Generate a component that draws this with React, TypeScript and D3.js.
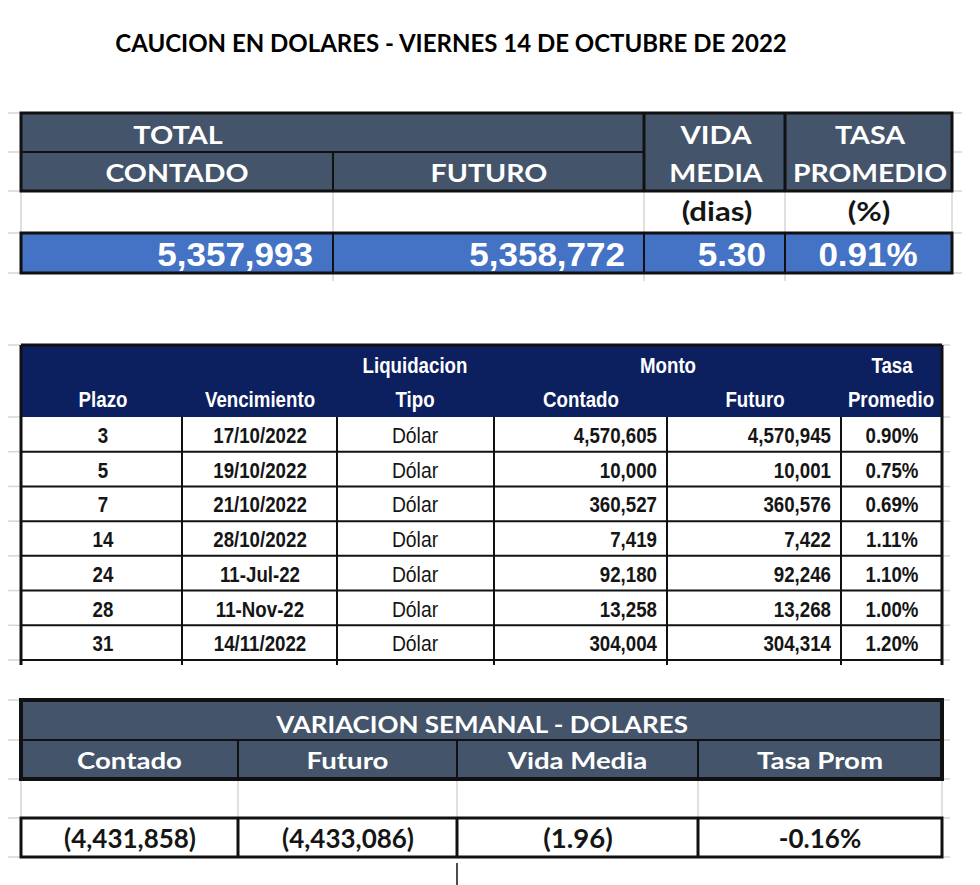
import React from "react";
import * as d3 from "d3";

// ---- data ----
const title = "CAUCION EN DOLARES - VIERNES 14 DE OCTUBRE DE 2022";

const totalContado = 5357993;
const totalFuturo = 5358772;
const vidaMedia = 5.3;
const tasaPromedio = 0.91;

const plazos = [3, 5, 7, 14, 24, 28, 31];
const vencimientos = ["17/10/2022", "19/10/2022", "21/10/2022", "28/10/2022", "11-Jul-22", "11-Nov-22", "14/11/2022"];
const tipos = ["Dólar", "Dólar", "Dólar", "Dólar", "Dólar", "Dólar", "Dólar"];
const montoContado = [4570605, 10000, 360527, 7419, 92180, 13258, 304004];
const montoFuturo = [4570945, 10001, 360576, 7422, 92246, 13268, 304314];
const tasas = [0.9, 0.75, 0.69, 1.11, 1.1, 1.0, 1.2];

const varLabels = ["Contado", "Futuro", "Vida Media", "Tasa Prom"];
const varContado = -4431858;
const varFuturo = -4433086;
const varVida = -1.96;
const varTasa = -0.16;

// ---- styles ----
const CAL = "Lato, 'Open Sans', sans-serif";
const NARROW = "'Liberation Sans Narrow', 'Liberation Sans', Arial, sans-serif";
const ARIAL = "'Liberation Sans', Arial, sans-serif";
const slate = "#44546a";
const navy = "#0c1f5e";
const blue = "#4472c4";
const grid = "#d6d6d6";
const ink = "#151515";

const fmtInt = d3.format(",");
const fmt2 = d3.format(".2f");
const paren = (v: number, f: (n: number) => string) => (v < 0 ? `(${f(-v)})` : f(v));
const pct = (v: number) => (v < 0 ? "-" : "") + fmt2(Math.abs(v)) + "%";

// text squeezed/stretched horizontally to mimic the spreadsheet fonts
function T({ x, y, sx = 1, anchor = "middle", children, ...rest }: any) {
  return (
    <text transform={`translate(${x},${y}) scale(${sx},1)`} textAnchor={anchor} {...rest}>
      {children}
    </text>
  );
}

export default function App() {
  // table 1 geometry
  const t1x = [21, 333, 644, 785, 952];
  const t1y = [113, 152, 191, 233, 273];

  // table 2 geometry
  const t2x = [21, 182, 337, 494, 667, 841, 942];
  const t2top = 345;
  const rowY = d3.scaleLinear().domain([0, plazos.length]).range([417, 660]);
  const rowIdx = d3.range(plazos.length);

  // table 3 geometry
  const t3x = [21, 238, 457, 698, 942];
  const t3y = [700, 740, 779, 818, 857];

  const t2lines = [t2top, ...d3.range(plazos.length + 1).map(rowY)];
  const stubsLeft = [...t1y, ...t2lines, ...t3y];
  const NX = 0.85;

  return (
    <svg width={980} height={885} style={{ position: "absolute", left: 0, top: 0, background: "#fff" }}>
      {/* spreadsheet gridline stubs */}
      {stubsLeft.map((y, i) => (
        <line key={"sl" + i} x1={8} x2={21} y1={y} y2={y} stroke={grid} strokeWidth={1.5} />
      ))}
      {t1y.map((y, i) => (
        <line key={"sr" + i} x1={952} x2={962} y1={y} y2={y} stroke={grid} strokeWidth={1.5} />
      ))}
      {[...t2lines, ...t3y].map((y, i) => (
        <line key={"sr2" + i} x1={942} x2={950} y1={y} y2={y} stroke={grid} strokeWidth={1.5} />
      ))}

      {/* title */}
      <T x={451} y={52} fontFamily={CAL} fontWeight={700} fontSize={24} fill="#000">
        {title}
      </T>

      {/* ===== table 1 ===== */}
      <rect x={t1x[0]} y={t1y[0]} width={t1x[4] - t1x[0]} height={t1y[2] - t1y[0]} fill={slate} />
      {t1x.map((x, i) => (
        <line key={"g1" + i} x1={x} x2={x} y1={t1y[2]} y2={t1y[3]} stroke={grid} strokeWidth={1.5} />
      ))}
      {[1, 2, 3].map((i) => (
        <line key={"g1b" + i} x1={t1x[i]} x2={t1x[i]} y1={t1y[4]} y2={t1y[4] + 8} stroke={grid} strokeWidth={1.5} />
      ))}
      <rect x={t1x[0]} y={t1y[3]} width={t1x[4] - t1x[0]} height={t1y[4] - t1y[3]} fill={blue} />
      <rect x={t1x[0]} y={t1y[0]} width={t1x[4] - t1x[0]} height={t1y[2] - t1y[0]} fill="none" stroke="#111" strokeWidth={3} />
      <line x1={t1x[0]} x2={t1x[2]} y1={t1y[1]} y2={t1y[1]} stroke="#111" strokeWidth={2} />
      <line x1={t1x[1]} x2={t1x[1]} y1={t1y[1]} y2={t1y[2]} stroke="#111" strokeWidth={2} />
      <line x1={t1x[2]} x2={t1x[2]} y1={t1y[0]} y2={t1y[2]} stroke="#111" strokeWidth={3} />
      <line x1={t1x[3]} x2={t1x[3]} y1={t1y[0]} y2={t1y[2]} stroke="#111" strokeWidth={3} />
      <rect x={t1x[0]} y={t1y[3]} width={t1x[4] - t1x[0]} height={t1y[4] - t1y[3]} fill="none" stroke="#111" strokeWidth={3} />
      {[1, 2, 3].map((i) => (
        <line key={"v1" + i} x1={t1x[i]} x2={t1x[i]} y1={t1y[3]} y2={t1y[4]} stroke="#111" strokeWidth={2} />
      ))}
      <g fontFamily={CAL} fontWeight={700} fontSize={24} fill="#fff">
        <T x={178} y={144} sx={1.2}>TOTAL</T>
        <T x={177} y={182} sx={1.19}>CONTADO</T>
        <T x={489} y={182} sx={1.19}>FUTURO</T>
        <T x={716} y={144} sx={1.22}>VIDA</T>
        <T x={716} y={182} sx={1.19}>MEDIA</T>
        <T x={870} y={144} sx={1.19}>TASA</T>
        <T x={870} y={182} sx={1.18}>PROMEDIO</T>
      </g>
      <g fontFamily={CAL} fontWeight={700} fontSize={26} fill={ink}>
        <T x={717} y={221} sx={1.2}>(dias)</T>
        <T x={869} y={221} sx={1.2}>(%)</T>
      </g>
      <g fontFamily={ARIAL} fontWeight={700} fontSize={34} fill="#fff">
        <T x={313} y={266} sx={1.03} anchor="end">{fmtInt(totalContado)}</T>
        <T x={625} y={266} sx={1.03} anchor="end">{fmtInt(totalFuturo)}</T>
        <T x={766} y={266} sx={1.03} anchor="end">{fmt2(vidaMedia)}</T>
        <T x={868} y={266} sx={1.03}>{pct(tasaPromedio)}</T>
      </g>

      {/* ===== table 2 ===== */}
      <rect x={t2x[0]} y={t2top} width={t2x[6] - t2x[0]} height={rowY(0) - t2top} fill={navy} />
      <g fontFamily={NARROW} fontWeight={700} fontSize={22} fill="#fff">
        <T x={415} y={373} sx={NX}>Liquidacion</T>
        <T x={668} y={373} sx={NX}>Monto</T>
        <T x={892} y={373} sx={NX}>Tasa</T>
        <T x={103} y={407} sx={NX}>Plazo</T>
        <T x={260} y={407} sx={NX}>Vencimiento</T>
        <T x={415} y={407} sx={NX}>Tipo</T>
        <T x={581} y={407} sx={NX}>Contado</T>
        <T x={755} y={407} sx={NX}>Futuro</T>
        <T x={891} y={407} sx={NX}>Promedio</T>
      </g>
      {rowIdx.map((i) => (
        <line key={"h2" + i} x1={t2x[0]} x2={t2x[6]} y1={rowY(i + 1)} y2={rowY(i + 1)} stroke="#111" strokeWidth={2} />
      ))}
      {t2x.map((x, i) => (
        <line key={"v2" + i} x1={x} x2={x} y1={i === 0 || i === 6 ? t2top : rowY(0)} y2={rowY(plazos.length) + 5}
          stroke="#111" strokeWidth={i === 0 || i === 6 ? 3 : 2} />
      ))}
      <line x1={t2x[0]} x2={t2x[6]} y1={t2top} y2={t2top} stroke="#111" strokeWidth={3} />
      <g fontFamily={NARROW} fontWeight={700} fontSize={22} fill={ink}>
        {rowIdx.map((i) => {
          const y = rowY(i) + 26;
          return (
            <g key={"r" + i}>
              <T x={103} y={y} sx={NX}>{plazos[i]}</T>
              <T x={260} y={y} sx={NX}>{vencimientos[i]}</T>
              <T x={415} y={y} sx={0.88} fontWeight={400}>{tipos[i]}</T>
              <T x={657} y={y} sx={NX} anchor="end">{fmtInt(montoContado[i])}</T>
              <T x={831} y={y} sx={NX} anchor="end">{fmtInt(montoFuturo[i])}</T>
              <T x={892} y={y} sx={NX}>{pct(tasas[i])}</T>
            </g>
          );
        })}
      </g>

      {/* ===== table 3 ===== */}
      <rect x={t3x[0]} y={t3y[0]} width={t3x[4] - t3x[0]} height={t3y[2] - t3y[0]} fill={slate} />
      {t3x.map((x, i) => (
        <line key={"g3" + i} x1={x} x2={x} y1={t3y[2]} y2={t3y[3]} stroke={grid} strokeWidth={1.5} />
      ))}
      <rect x={t3x[0]} y={t3y[0]} width={t3x[4] - t3x[0]} height={t3y[2] - t3y[0]} fill="none" stroke="#111" strokeWidth={4} />
      <line x1={t3x[0]} x2={t3x[4]} y1={t3y[1]} y2={t3y[1]} stroke="#111" strokeWidth={2} />
      {[1, 2, 3].map((i) => (
        <line key={"v3" + i} x1={t3x[i]} x2={t3x[i]} y1={t3y[1]} y2={t3y[2]} stroke="#111" strokeWidth={2} />
      ))}
      <rect x={t3x[0]} y={t3y[3]} width={t3x[4] - t3x[0]} height={t3y[4] - t3y[3]} fill="#fff" stroke="#111" strokeWidth={3} />
      {[1, 2, 3].map((i) => (
        <line key={"w3" + i} x1={t3x[i]} x2={t3x[i]} y1={t3y[3]} y2={t3y[4]} stroke="#111" strokeWidth={3} />
      ))}
      <line x1={457} x2={457} y1={863} y2={885} stroke="#111" strokeWidth={1.5} />
      <g fontFamily={CAL} fontWeight={700} fontSize={23} fill="#fff">
        <T x={482} y={733} sx={1.13}>VARIACION SEMANAL - DOLARES</T>
        {varLabels.map((l, i) => (
          <T key={l} x={(t3x[i] + t3x[i + 1]) / 2} y={769} sx={1.2}>{l}</T>
        ))}
      </g>
      <g fontFamily={CAL} fontWeight={700} fontSize={26} fill={ink}>
        <T x={130} y={848} sx={1.0}>{paren(varContado, fmtInt)}</T>
        <T x={348} y={848} sx={1.0}>{paren(varFuturo, fmtInt)}</T>
        <T x={578} y={848} sx={1.06}>{paren(varVida, fmt2)}</T>
        <T x={820} y={848} sx={1.0}>{pct(varTasa)}</T>
      </g>
    </svg>
  );
}
